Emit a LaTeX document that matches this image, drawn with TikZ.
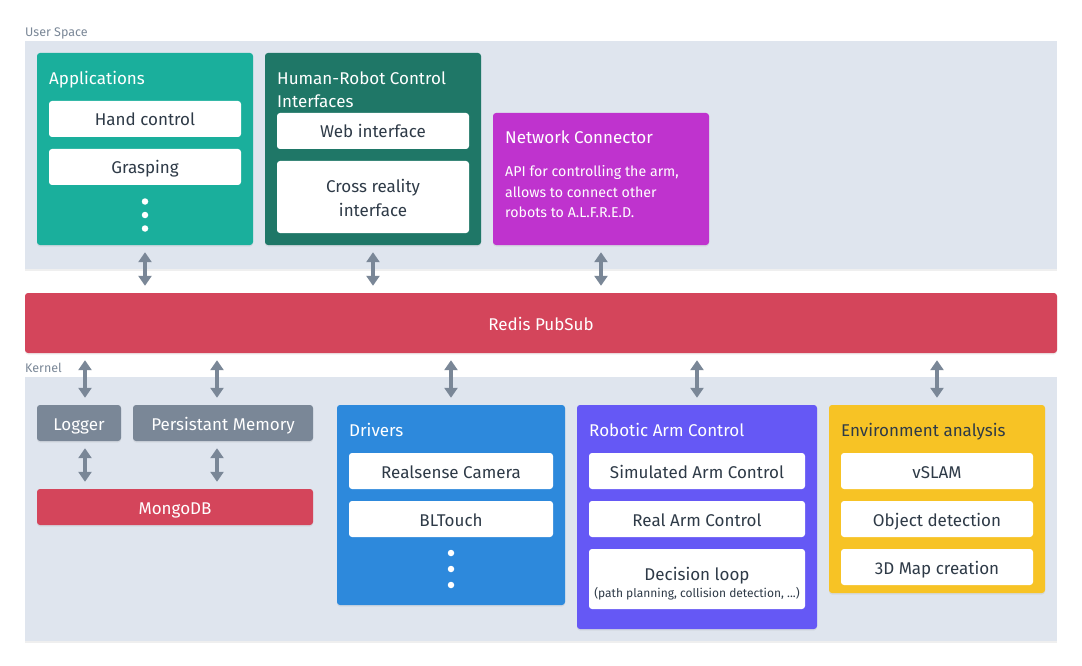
\documentclass[tikz,border=0pt]{standalone}
\usepackage{fontspec}
\setmainfont{Fira Sans}
\usetikzlibrary{arrows.meta,shadows}
\definecolor{panelbg}{HTML}{DFE5EE}
\definecolor{teal1}{HTML}{1AAF9C}
\definecolor{dgreen}{HTML}{1F7767}
\definecolor{magenta1}{HTML}{BF33CE}
\definecolor{red1}{HTML}{D4455B}
\definecolor{gray1}{HTML}{7A8797}
\definecolor{blue1}{HTML}{2D89DC}
\definecolor{purple1}{HTML}{6558F5}
\definecolor{yellow1}{HTML}{F7C325}
\definecolor{txt}{HTML}{2E3A47}
\begin{document}
\begin{tikzpicture}[x=1pt,y=-1pt,
  shadowed/.style={drop shadow={opacity=0.12,shadow xshift=0pt,shadow yshift=-1.5pt}},
  panel/.style={fill=panelbg, inner sep=0pt, draw=none},
  box/.style={rounded corners=3pt, inner sep=0pt, draw=none, shadowed},
  boxtext/.style={text height=14pt, text depth=0pt, font=\fontsize{17}{20}\selectfont},
  item/.style={rounded corners=3pt, inner sep=0pt, fill=white, text=txt, minimum width=192pt, minimum height=36pt, boxtext},
  plainitem/.style={rounded corners=3pt, inner sep=0pt, fill=white, minimum width=192pt, minimum height=36pt},
  itemtext/.style={anchor=base, inner sep=0pt, text=txt, align=center, font=\fontsize{17}{24}\selectfont},
  title/.style={anchor=base west, inner sep=0pt, text=white, font=\fontsize{17}{24}\selectfont, align=left},
  seclabel/.style={anchor=base west, inner sep=0pt, text=gray1, font=\fontsize{12.5}{14}\selectfont},
  dot/.style={circle, fill=white, minimum size=6.5pt, inner sep=0pt},
  conn/.style={draw=gray1, line width=4.5pt, {Triangle[width=13pt,length=10pt]}-{Triangle[width=13pt,length=10pt]}, shorten <=7pt, shorten >=7pt}
]
\useasboundingbox (0,0) rectangle (1082,666);
\fill[white] (0,0) rectangle (1082,666);

% User space
\node[seclabel] (uslabel) at (25,37) {User Space};
\node[panel, shadowed, minimum width=1032pt, minimum height=228pt] (userbg) at (541,155) {};

\node[box, fill=teal1, minimum width=216pt, minimum height=192pt] (apps) at (145,149) {};
\node[title] (appst) at (49,84.5) {Applications};
\node[item] (hand) at (145,119) {Hand control};
\node[item] (grasp) at (145,167) {Grasping};
\node[dot] (ad1) at (145,201.5) {};
\node[dot] (ad2) at (145,215) {};
\node[dot] (ad3) at (145,228.5) {};

\node[box, fill=dgreen, minimum width=216pt, minimum height=192pt] (hrc) at (373,149) {};
\node[title] (hrct) at (277,84.5) {Human-Robot Control};
\node[title] (hrct2) at (277,108) {Interfaces};
\node[item] (web) at (373,131) {Web interface};
\node[plainitem, minimum height=72pt] (cross) at (373,197) {};
\node[itemtext] (crosst) at (373,216.5) {Cross reality\\interface};

\node[box, fill=magenta1, minimum width=216pt, minimum height=132pt] (net) at (601,179) {};
\node[title] (nett) at (505,143.5) {Network Connector};
\node[anchor=base west, inner sep=0pt, text=white, align=left, font=\fontsize{14.2}{20}\selectfont] (netd) at (505,217) {API for controlling the arm,\\allows to connect other\\robots to A.L.F.R.E.D.};

% Redis
\node[box, fill=red1, minimum width=1032pt, minimum height=60pt, text=white, boxtext] (redis) at (541,323) {Redis PubSub};

% Kernel
\node[seclabel] (klabel) at (25,372.5) {Kernel};
\node[panel, shadowed, minimum width=1032pt, minimum height=264pt] (kernelbg) at (541,509) {};

\node[box, fill=gray1, minimum width=84pt, minimum height=36pt, text=white, boxtext] (logger) at (79,423) {Logger};
\node[box, fill=gray1, minimum width=180pt, minimum height=36pt, text=white, boxtext] (pmem) at (223,423) {Persistant Memory};
\node[box, fill=red1, minimum width=276pt, minimum height=36pt, text=white, boxtext] (mongo) at (175,507) {MongoDB};

\node[box, fill=blue1, minimum width=228pt, minimum height=200pt] (drivers) at (451,505) {};
\node[title] (drvt) at (349,436.5) {Drivers};
\node[item, minimum width=204pt] (realsense) at (451,471) {Realsense Camera};
\node[item, minimum width=204pt] (bltouch) at (451,519) {BLTouch};
\node[dot] (dd1) at (451,553) {};
\node[dot] (dd2) at (451,569) {};
\node[dot] (dd3) at (451,585) {};

\node[box, fill=purple1, minimum width=240pt, minimum height=224pt] (arm) at (697,517) {};
\node[title] (armt) at (589,436.5) {Robotic Arm Control};
\node[item, minimum width=216pt] (sim) at (697,471) {Simulated Arm Control};
\node[item, minimum width=216pt] (realarm) at (697,519) {Real Arm Control};
\node[plainitem, minimum width=216pt, minimum height=60pt] (decision) at (697,579) {};
\node[itemtext] (dect) at (697,580.5) {Decision loop};
\node[itemtext, font=\fontsize{12}{14}\selectfont] (decsub) at (697,597) {(path planning, collision detection, ...)};

\node[box, fill=yellow1, minimum width=216pt, minimum height=188pt] (env) at (937,499) {};
\node[title, text=txt] (envt) at (841,436.5) {Environment analysis};
\node[item] (vslam) at (937,471) {vSLAM};
\node[item] (objdet) at (937,519) {Object detection};
\node[item] (map3d) at (937,567) {3D Map creation};

% connectors
\draw[conn] (apps.south) -- (apps.south |- redis.north);
\draw[conn] (hrc.south) -- (hrc.south |- redis.north);
\draw[conn] (net.south) -- (net.south |- redis.north);

\draw[conn] ([xshift=6pt]logger.north |- redis.south) -- ([xshift=6pt]logger.north);
\draw[conn] ([xshift=-6pt]pmem.north |- redis.south) -- ([xshift=-6pt]pmem.north);
\draw[conn] (redis.south -| drivers.north) -- (drivers.north);
\draw[conn] (redis.south -| arm.north) -- (arm.north);
\draw[conn] (redis.south -| env.north) -- (env.north);

\draw[conn] ([xshift=6pt]logger.south) -- ([xshift=6pt]logger.south |- mongo.north);
\draw[conn] ([xshift=-6pt]pmem.south) -- ([xshift=-6pt]pmem.south |- mongo.north);
\end{tikzpicture}
\end{document}
